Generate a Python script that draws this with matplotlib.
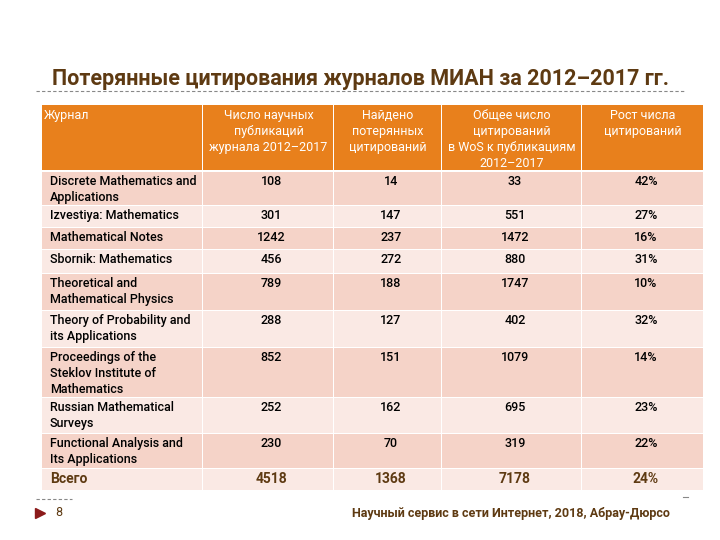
import matplotlib.pyplot as plt
from matplotlib.patches import Rectangle

plt.rcParams['font.family'] = ['Roboto', 'DejaVu Sans']

title = "Потерянные цитирования журналов МИАН за 2012–2017 гг."
headers = ["Журнал",
           "Число научных\nпубликаций\nжурнала 2012–2017",
           "Найдено\nпотерянных\nцитирований",
           "Общее число\nцитирований\nв WoS к публикациям\n2012–2017",
           "Рост числа\nцитирований"]
journals = ["Discrete Mathematics and\nApplications",
            "Izvestiya: Mathematics",
            "Mathematical Notes",
            "Sbornik: Mathematics",
            "Theoretical and\nMathematical Physics",
            "Theory of Probability and\nits Applications",
            "Proceedings of the\nSteklov Institute of\nMathematics",
            "Russian Mathematical\nSurveys",
            "Functional Analysis and\nIts Applications"]
publications = [108, 301, 1242, 456, 789, 288, 852, 252, 230]
lost_citations = [14, 147, 237, 272, 188, 127, 151, 162, 70]
total_citations = [33, 551, 1472, 880, 1747, 402, 1079, 695, 319]
growth = ["42%", "27%", "16%", "31%", "10%", "32%", "14%", "23%", "22%"]
total_label = "Всего"
totals = ["4518", "1368", "7178", "24%"]
page_no = "8"
footer = "Научный сервис в сети Интернет, 2018, Абрау-Дюрсо"

# layout (pixel coords of the slide)
col_edges = [42, 203, 334, 442, 582, 704]
header_top, header_bot = 105, 170
row_edges = [172, 206, 228, 250, 274, 311, 348, 398, 434, 469, 491]

orange = "#E8801C"
dark_row = "#F5D3C8"
light_row = "#FAE9E4"
brown = "#5E3A12"

fig = plt.figure(figsize=(7.2, 5.4), dpi=100)
ax = fig.add_axes([0, 0, 1, 1])
ax.set_xlim(0, 720)
ax.set_ylim(540, 0)
ax.axis('off')

ax.text(361, 79, title, ha='center', va='center', fontsize=15.5,
        fontweight='bold', color=brown)
ax.plot([36, 686], [91, 91], ls=(0, (3, 2)), lw=0.8, color='#888888')

gap = 1.5
for i in range(5):
    x0, x1 = col_edges[i], col_edges[i + 1]
    ax.add_patch(Rectangle((x0, header_top), x1 - x0 - gap,
                           header_bot - header_top, color=orange, lw=0))
    if i == 0:
        ax.text(x0 + 2, header_top + 4, headers[i], ha='left', va='top',
                fontsize=9, color='white', linespacing=1.3)
    else:
        ax.text((x0 + x1) / 2, header_top + 4, headers[i], ha='center',
                va='top', fontsize=9, color='white', linespacing=1.3)

columns = [journals, [str(v) for v in publications],
           [str(v) for v in lost_citations],
           [str(v) for v in total_citations], growth]
n = len(journals)
for r in range(n + 1):
    y0, y1 = row_edges[r], row_edges[r + 1]
    fc = dark_row if r % 2 == 0 else light_row
    for c in range(5):
        x0, x1 = col_edges[c], col_edges[c + 1]
        ax.add_patch(Rectangle((x0, y0), x1 - x0 - gap, y1 - y0 - gap,
                               color=fc, lw=0))
        if r < n:
            txt = columns[c][r]
            kw = dict(fontsize=9, color='black', linespacing=1.3,
                      fontweight='medium')
        else:
            txt = total_label if c == 0 else totals[c - 1]
            kw = dict(fontsize=10, color=brown, fontweight='bold')
        if c == 0:
            ax.text(x0 + 8, y0 + 3, txt, ha='left', va='top', **kw)
        else:
            ax.text((x0 + x1) / 2 + 3, y0 + 3, txt, ha='center', va='top',
                    **kw)

# footer
ax.plot([36, 72], [499, 499], ls=(0, (3, 2)), lw=0.8, color='#888888')
ax.plot([683, 688], [497, 497], lw=0.8, color='#888888')
ax.plot([40], [513], marker='>', ms=7, color='#8B1A1A', ls='none')
ax.text(55, 513, page_no, ha='left', va='center', fontsize=9, color=brown)
ax.text(670, 513, footer, ha='right', va='center', fontsize=9,
        color=brown, fontweight='bold')

fig.savefig("out.png", dpi=100)
